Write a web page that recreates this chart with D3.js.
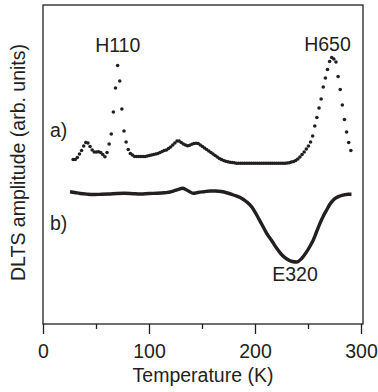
<!DOCTYPE html>
<html>
<head>
<meta charset="utf-8">
<script src="https://cdn.jsdelivr.net/npm/d3@7"></script>
<style>
  body { margin: 0; background: #fff; }
  text { font-family: "Liberation Sans", Arial, sans-serif; fill: #231f20; }
</style>
</head>
<body>
<svg id="chart" width="378" height="392"></svg>
<script>
// spectrum a): points every 2 K starting at 28.4 K
const tStartA = 28.4, tStepA = 2;
const ampA = [
  164.5, 164.5, 166.5, 170, 173.5, 178, 181.5, 181, 177.5, 174,
  172, 172, 172.3, 171.5, 169.5, 167.3, 171.5, 180, 190, 212,
  236, 258.5, 243, 215, 193, 182, 174.5, 170.5, 169, 167.5,
  167.5, 167.5, 167.5, 167.5, 167.5, 168, 168.5, 169, 169.5, 170,
  170.5, 171.5, 172.5, 173.5, 174, 175.5, 177, 179, 181, 183,
  183, 181.5, 180, 179, 178.3, 178.8, 179.8, 180.5, 180.7, 180.5,
  179, 177.5, 176, 174.5, 173, 171.5, 170, 168.5, 167, 165.5,
  164.5, 163.5, 162.8, 162.2, 161.8, 161.5, 161.2, 160.7, 160.7, 160.7,
  160.7, 160.7, 160.7, 160.7, 160.7, 160.7, 160.7, 160.7, 160.7, 160.7,
  160.7, 160.7, 160.7, 160.7, 160.7, 160.7, 160.7, 160.7, 160.7, 160.7,
  160.7, 161, 161.3, 162, 162.5, 163.5, 165, 167, 169.5, 172,
  175, 178, 182, 188, 198, 206.5, 216, 225, 237, 246,
  254.5, 262.5, 266.5, 265, 262, 247.5, 234.5, 219, 204.5, 192,
  181.5, 173.5
];
const tempsA = ampA.map((_, i) => tStartA + i * tStepA);

// spectrum b)
const tempsB = [25.5, 30, 35, 42, 48, 55, 62, 70, 77, 85, 92, 100, 108, 115, 120, 124, 128, 131.8,
  135, 138, 141.8, 146, 152, 158, 163, 168, 174, 179.5, 186, 192, 197, 201.6, 206, 211, 216,
  220.5, 225, 230, 235, 239.3, 244, 248.8, 252, 255, 258, 261.3, 264.5, 267.6, 270.5, 273.9,
  277, 280.2, 284, 288, 291];
const ampB = [132.3, 131.5, 130.5, 129.8, 129.5, 129.7, 130, 130.5, 130.7, 130.3, 130, 130.5,
  130.7, 131.3, 132, 133.3, 134.7, 135.7, 134.3, 132.5, 130.7, 131.5, 132.3, 133, 133, 132.5,
  131, 129, 126.5, 122.3, 117, 109, 100.5, 90.7, 83, 75.7, 69.5, 65, 62.5, 62, 65.5, 72.3,
  78, 84, 92, 100.7, 108, 114, 119.5, 124, 126.5, 128, 129.2, 129.7, 129.7];

const majorTicks = [0, 100, 200, 300];
const minorTicks = [50, 150, 250];

const peakLabels = [
  { name: "H110", t: 70.5, amp: 272 },
  { name: "H650", t: 268.4, amp: 273 },
  { name: "E320", t: 237.7, amp: 43 }
];
const curveLabels = [
  { name: "a)", amp: 187 },
  { name: "b)", amp: 94 }
];

const ink = "#231f20";
const fs = 19.5;
const plot = { left: 43, right: 363, top: 5, bottom: 324 };

const svg = d3.select("#chart");
const x = d3.scaleLinear().domain([0, 300]).range([plot.left, 361]);
const y = d3.scaleLinear().domain([0, plot.bottom - plot.top]).range([plot.bottom, plot.top]);

// frame
svg.append("rect")
  .attr("x", plot.left).attr("y", plot.top)
  .attr("width", plot.right - plot.left).attr("height", plot.bottom - plot.top)
  .attr("fill", "none").attr("stroke", ink).attr("stroke-width", 1.3);

// bottom axis, major + minor ticks
const axisG = svg.append("g").attr("transform", `translate(0,${plot.bottom})`);
axisG.call(d3.axisBottom(x).tickValues(majorTicks).tickSize(10).tickPadding(10).tickFormat(d3.format("d")));
const minorG = svg.append("g").attr("transform", `translate(0,${plot.bottom})`);
minorG.call(d3.axisBottom(x).tickValues(minorTicks).tickSize(5).tickFormat(""));
[axisG, minorG].forEach(g => {
  g.select(".domain").remove();
  g.selectAll("line").attr("stroke", ink).attr("stroke-width", 1.3);
});
axisG.selectAll("text")
  .attr("fill", ink)
  .style("font-size", fs + "px")
  .style("font-family", '"Liberation Sans", Arial, sans-serif');

// axis titles
svg.append("text")
  .attr("x", (plot.left + plot.right) / 2).attr("y", 382)
  .attr("text-anchor", "middle")
  .style("font-size", fs + "px")
  .text("Temperature (K)");

svg.append("text")
  .attr("transform", `translate(25,${(plot.top + plot.bottom) / 2 - 2}) rotate(-90)`)
  .attr("text-anchor", "middle")
  .style("font-size", fs + "px")
  .text("DLTS amplitude (arb. units)");

// spectrum b): continuous line
const lineB = d3.line()
  .x((d, i) => x(tempsB[i]))
  .y(d => y(d))
  .curve(d3.curveMonotoneX);
svg.append("path")
  .datum(ampB)
  .attr("d", lineB)
  .attr("fill", "none")
  .attr("stroke", ink)
  .attr("stroke-width", 3.4);

// spectrum a): dots
svg.append("g")
  .selectAll("circle")
  .data(ampA)
  .join("circle")
  .attr("cx", (d, i) => x(tempsA[i]))
  .attr("cy", d => y(d))
  .attr("r", 1.8)
  .attr("fill", ink);

// labels
svg.append("g")
  .selectAll("text")
  .data(peakLabels)
  .join("text")
  .attr("x", d => x(d.t))
  .attr("y", d => y(d.amp))
  .attr("text-anchor", "middle")
  .style("font-size", fs + "px")
  .text(d => d.name);

svg.append("g")
  .selectAll("text")
  .data(curveLabels)
  .join("text")
  .attr("x", 50)
  .attr("y", d => y(d.amp))
  .style("font-size", fs + "px")
  .text(d => d.name);
</script>
</body>
</html>
